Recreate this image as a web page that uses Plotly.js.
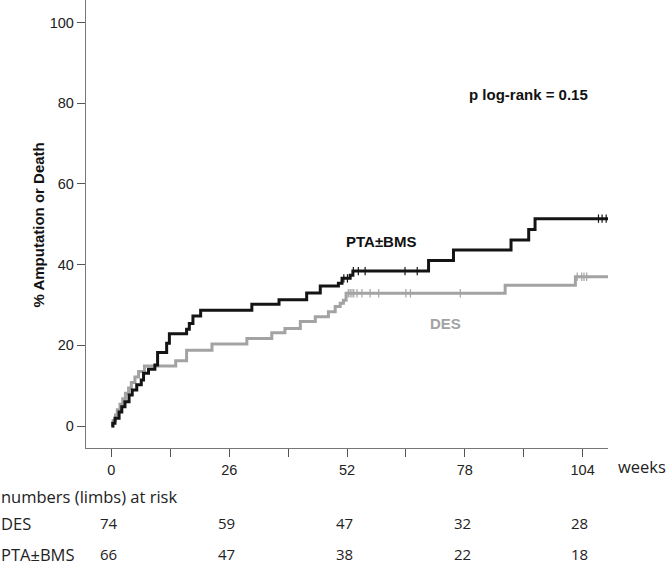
<!DOCTYPE html>
<html>
<head>
<meta charset="utf-8">
<script src="https://cdn.plot.ly/plotly-3.0.1.min.js"></script>
<style>html,body{margin:0;padding:0;background:#fff;}#chart{width:666px;height:565px;}</style>
</head>
<body>
<div id="chart"></div>
<script>
// PTA±BMS (black) Kaplan-Meier cumulative incidence (%)
const ptaTime = [0, 0.3, 0.8, 1.7, 2.3, 3.0, 3.9, 4.6, 5.6, 6.6, 7.1, 8.2, 9.6, 10.2, 12.2, 12.8, 16.6, 17.2, 18.0, 19.7, 31.0, 37.0, 43.1, 46.1, 50.1, 50.9, 52.7, 53.3, 70.0, 75.5, 88.2, 92.1, 93.5, 109.7];
const ptaPct  = [0, 0.7, 1.9, 3.5, 4.8, 6.0, 7.7, 8.9, 10.2, 11.4, 13.1, 14.1, 15.1, 18.2, 20.5, 22.9, 24.0, 25.4, 27.3, 28.7, 30.2, 31.3, 33.0, 34.7, 35.4, 36.6, 37.4, 38.4, 41.0, 43.6, 46.1, 48.7, 51.4, 51.4];
const ptaCensor = [51.3, 52.1, 53.4, 54.5, 56.0, 64.8, 67.5, 107.5, 108.3, 109.2];

// DES (grey)
const desTime = [0, 0.4, 0.9, 1.3, 1.9, 2.5, 3.1, 3.8, 4.4, 5.2, 6.0, 7.3, 14.2, 16.6, 22.2, 29.9, 35.4, 38.3, 41.7, 45.0, 47.9, 49.4, 50.5, 51.2, 51.8, 86.9, 102.4, 109.9];
const desPct  = [0, 1.35, 2.7, 4.05, 5.4, 6.75, 8.1, 9.45, 10.8, 12.15, 13.5, 14.9, 16.2, 18.8, 20.3, 21.7, 23.1, 24.2, 25.9, 27.1, 28.3, 29.6, 30.4, 31.2, 32.9, 34.9, 37.0, 37.0];
const desCensor = [52.3, 52.7, 53.1, 53.5, 54.2, 55.3, 57.1, 59.0, 65.0, 66.0, 77.0, 102.8, 103.8, 104.3, 104.9, 109.9];

// x axis ticks
const majorTicks = [0, 26, 52, 78, 104];
const allTicks = [0, 13, 26, 39, 52, 65, 78, 91, 104];
const yTicks = [0, 20, 40, 60, 80, 100];

// numbers (limbs) at risk
const riskTimes = [0, 26, 52, 78, 104];
const desRisk = [74, 59, 47, 32, 28];
const ptaRisk = [66, 47, 38, 22, 18];

const BLACK = '#141414';
const GREY = '#a3a3a3';

function stepAt(times, vals, t) {
  let v = vals[0];
  for (let i = 0; i < times.length; i++) { if (times[i] <= t) v = vals[i]; }
  return v;
}

const traces = [
  {x: desTime, y: desPct, mode: 'lines', line: {shape: 'hv', color: GREY, width: 3}, hoverinfo: 'skip'},
  {x: desCensor, y: desCensor.map(t => stepAt(desTime, desPct, t)), mode: 'markers',
   marker: {symbol: 'line-ns', size: 6, color: GREY, line: {color: GREY, width: 1.2}}, hoverinfo: 'skip'},
  {x: ptaTime, y: ptaPct, mode: 'lines', line: {shape: 'hv', color: BLACK, width: 3}, hoverinfo: 'skip'},
  {x: ptaCensor, y: ptaCensor.map(t => stepAt(ptaTime, ptaPct, t)), mode: 'markers',
   marker: {symbol: 'line-ns', size: 6, color: BLACK, line: {color: BLACK, width: 1.2}}, hoverinfo: 'skip'}
];

const tickFont = {family: 'Liberation Sans, Arial, sans-serif', size: 14.5, color: '#222'};
const numFont = {family: 'Open Sans, sans-serif', size: 15, color: '#222'};
const labFont = {family: 'Open Sans, sans-serif', size: 16.5, color: '#222'};
const rowY = (px) => (448 - px) / 448;
const rowX = (px) => (px - 86) / 522;

const annotations = [
  {xref: 'x', yref: 'y', x: 92.1, y: 82.3, text: '<b>p log-rank = 0.15</b>', showarrow: false,
   xanchor: 'center', yanchor: 'middle',
   font: {family: 'Liberation Sans, Arial, sans-serif', size: 15, color: '#111'}},
  {xref: 'x', yref: 'y', x: 59.6, y: 45.7, text: '<b>PTA±BMS</b>', showarrow: false,
   xanchor: 'center', yanchor: 'middle',
   font: {family: 'Liberation Sans, Arial, sans-serif', size: 15, color: '#111'}},
  {xref: 'x', yref: 'y', x: 73.7, y: 25.3, text: '<b>DES</b>', showarrow: false,
   xanchor: 'center', yanchor: 'middle',
   font: {family: 'Liberation Sans, Arial, sans-serif', size: 15, color: GREY}},
  {xref: 'paper', yref: 'paper', x: rowX(38.5), y: rowY(225), text: '<b>% Amputation or Death</b>', textangle: -90, showarrow: false,
   xanchor: 'center', yanchor: 'middle',
   font: {family: 'Liberation Sans, Arial, sans-serif', size: 15, color: '#111'}},
  {xref: 'paper', yref: 'paper', x: rowX(642), y: rowY(466), text: 'weeks', showarrow: false,
   xanchor: 'center', yanchor: 'middle', font: labFont},
  {xref: 'paper', yref: 'paper', x: rowX(-1), xanchor: 'left', yanchor: 'middle', y: rowY(496), text: 'numbers (limbs) at risk', showarrow: false,
   font: labFont},
  {xref: 'paper', yref: 'paper', x: rowX(-1), xanchor: 'left', yanchor: 'middle', y: rowY(523), text: 'DES', showarrow: false,
   font: labFont},
  {xref: 'paper', yref: 'paper', x: rowX(-1), xanchor: 'left', yanchor: 'middle', y: rowY(554), text: 'PTA±BMS', showarrow: false,
   font: labFont}
];
riskTimes.forEach((t, i) => {
  annotations.push({xref: 'x', yref: 'paper', x: t - 0.6, y: rowY(523), xanchor: 'center', yanchor: 'middle',
                    text: String(desRisk[i]), showarrow: false, font: numFont});
  annotations.push({xref: 'x', yref: 'paper', x: t - 0.6, y: rowY(554), xanchor: 'center', yanchor: 'middle',
                    text: String(ptaRisk[i]), showarrow: false, font: numFont});
});

const layout = {
  width: 666, height: 565,
  margin: {l: 86, r: 58, t: 0, b: 117, pad: 0},
  paper_bgcolor: '#fff', plot_bgcolor: '#fff',
  showlegend: false,
  xaxis: {range: [-5.6, 109.6], showgrid: false, zeroline: false, showline: true, linecolor: '#777', linewidth: 1.2,
          ticks: 'outside', ticklen: 8, tickcolor: '#555', tickwidth: 1,
          tickvals: allTicks, ticktext: allTicks.map(v => majorTicks.includes(v) ? String(v) : ''),
          tickfont: tickFont, fixedrange: true},
  yaxis: {range: [-5.45, 105.6], showgrid: false, zeroline: false, showline: true, linecolor: '#777', linewidth: 1.2,
          ticks: 'outside', ticklen: 8, tickcolor: '#555', tickwidth: 1,
          tickvals: yTicks, tickfont: tickFont, fixedrange: true},
  annotations: annotations
};

Plotly.newPlot('chart', traces, layout, {displayModeBar: false, staticPlot: true});
</script>
</body>
</html>
